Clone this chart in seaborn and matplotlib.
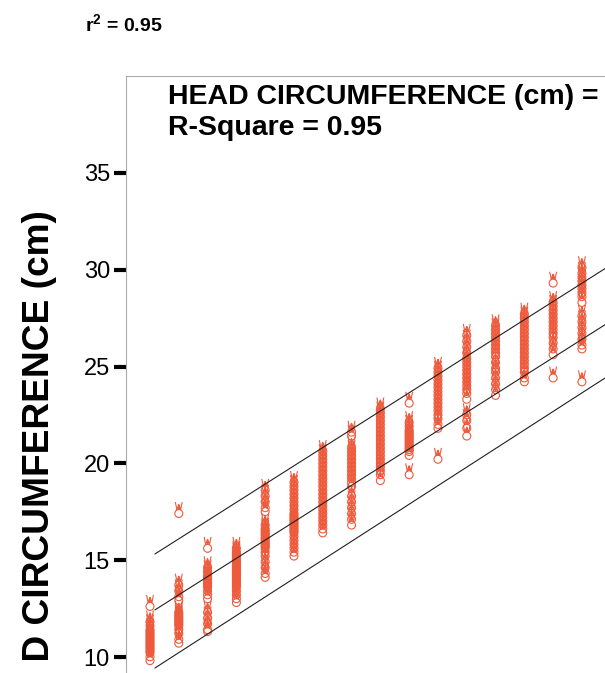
import matplotlib
matplotlib.use("Agg")
import matplotlib.pyplot as plt
from matplotlib.path import Path
from matplotlib.transforms import Bbox
import pandas as pd
import seaborn as sns

# ---- data ----
weeks = list(range(14, 30))
hc_wk14 = [12.8, 12.0, 11.8, 11.6, 11.5, 11.4, 11.3, 11.2, 11.1, 11.0, 10.9, 10.8, 10.7, 10.6, 10.5, 10.4, 10.2, 10.0]
hc_wk15 = [17.6, 13.9, 13.6, 13.3, 13.1, 12.5, 12.4, 12.3, 12.2, 12.1, 12.0, 11.9, 11.8, 11.6, 11.4, 11.1, 10.9]
hc_wk16 = [15.8, 14.8, 14.6, 14.4, 14.3, 14.2, 14.1, 14.0, 13.9, 13.8, 13.6, 13.4, 13.2, 12.5, 12.2, 11.9, 11.6, 11.5]
hc_wk17 = [15.8, 15.6, 15.5, 15.4, 15.3, 15.2, 15.1, 15.0, 14.9, 14.8, 14.7, 14.6, 14.5, 14.4, 14.3, 14.2, 14.1, 14.0, 13.9, 13.8, 13.6, 13.4, 13.2, 13.0]
hc_wk18 = [18.8, 18.5, 18.2, 17.9, 17.7, 17.0, 16.8, 16.7, 16.6, 16.5, 16.4, 16.3, 16.2, 16.1, 16.0, 15.9, 15.8, 15.6, 15.4, 15.1, 14.8, 14.5, 14.3]
hc_wk19 = [19.2, 19.0, 18.8, 18.6, 18.4, 18.2, 18.0, 17.8, 17.6, 17.5, 17.4, 17.3, 17.2, 17.1, 17.0, 16.9, 16.8, 16.7, 16.6, 16.4, 16.2, 16.0, 15.8, 15.6, 15.4]
hc_wk20 = [20.8, 20.6, 20.4, 20.2, 20.0, 19.8, 19.6, 19.4, 19.2, 19.0, 18.8, 18.6, 18.4, 18.2, 18.0, 17.8, 17.6, 17.4, 17.2, 17.0, 16.8, 16.6]
hc_wk21 = [21.8, 21.6, 21.0, 20.8, 20.6, 20.4, 20.2, 20.0, 19.8, 19.6, 19.4, 19.2, 19.0, 18.5, 18.2, 17.9, 17.6, 17.3, 17.0]
hc_wk22 = [23.0, 22.8, 22.6, 22.4, 22.2, 22.0, 21.8, 21.6, 21.4, 21.2, 21.0, 20.8, 20.6, 20.4, 20.2, 20.0, 19.8, 19.6, 19.3]
hc_wk23 = [23.3, 22.3, 22.1, 21.9, 21.8, 21.7, 21.6, 21.5, 21.4, 21.3, 21.2, 21.1, 21.0, 20.9, 20.8, 20.6, 19.6]
hc_wk24 = [25.1, 24.9, 24.7, 24.5, 24.3, 24.1, 23.9, 23.7, 23.5, 23.3, 23.1, 22.9, 22.7, 22.5, 22.2, 22.0, 20.4]
hc_wk25 = [26.8, 26.5, 26.2, 25.9, 25.6, 25.4, 25.2, 25.0, 24.8, 24.6, 24.4, 24.2, 24.0, 23.8, 23.5, 22.7, 22.4, 22.0, 21.6]
hc_wk26 = [27.3, 27.1, 26.9, 26.7, 26.5, 26.3, 26.1, 25.9, 25.7, 25.4, 25.1, 24.9, 24.6, 24.3, 24.0, 23.7]
hc_wk27 = [27.9, 27.7, 27.5, 27.3, 27.1, 26.9, 26.7, 26.5, 26.3, 26.1, 25.9, 25.7, 25.5, 25.3, 25.1, 24.9, 24.6, 24.4]
hc_wk28 = [29.5, 28.5, 28.3, 28.1, 27.9, 27.7, 27.5, 27.3, 27.1, 26.9, 26.7, 26.4, 26.1, 25.8, 24.6]
hc_wk29 = [30.3, 30.0, 29.8, 29.6, 29.4, 29.2, 29.0, 28.8, 28.5, 27.8, 27.5, 27.2, 26.9, 26.6, 26.3, 26.1, 24.4]

columns = [hc_wk14, hc_wk15, hc_wk16, hc_wk17, hc_wk18, hc_wk19, hc_wk20, hc_wk21,
           hc_wk22, hc_wk23, hc_wk24, hc_wk25, hc_wk26, hc_wk27, hc_wk28, hc_wk29]

fit_x = [14.17, 30.0]
fit_mid = [12.43, 27.35]
fit_upper = [15.32, 30.25]
fit_lower = [9.43, 24.60]

yticks = [10, 15, 20, 25, 30, 35]

rows = [(w, v) for w, col in zip(weeks, columns) for v in col]
df = pd.DataFrame(rows, columns=["week", "hc"])

# ---- style ----
sns.set_theme(style="white")
plt.rcParams["font.family"] = ["Liberation Sans", "DejaVu Sans"]
plt.rcParams["text.color"] = "black"
plt.rcParams["mathtext.fontset"] = "custom"
plt.rcParams["mathtext.rm"] = "Liberation Sans:bold"
plt.rcParams["mathtext.it"] = "Liberation Sans:bold"
plt.rcParams["mathtext.bf"] = "Liberation Sans:bold"

W, H = 605, 673
fig = plt.figure(figsize=(W / 100, H / 100), dpi=100)
ax_left, ax_right, ax_top, ax_bottom = 126.5, 700.0, 76.2, 753.8
ax = fig.add_axes([ax_left / W, (H - ax_bottom) / H,
                   (ax_right - ax_left) / W, (ax_bottom - ax_top) / H])

# custom "bunny" marker: open circle with two upright ears
circle = Path.circle((0, -0.42), 0.46)
ears = Path([(-0.40, 0.9), (-0.22, 0.02), (-0.02, 0.6), (0.0, 0.1),
             (0.02, 0.6), (0.22, 0.02), (0.40, 0.9)],
            [Path.MOVETO] + [Path.LINETO] * 6)
marker = Path.make_compound_path(circle, ears)

red = "#EE5A3C"
sns.scatterplot(data=df, x="week", y="hc", marker=marker, s=125,
                color=red, facecolor="none", edgecolor=red, linewidth=0.8,
                ax=ax, legend=False, zorder=2)

for yy in (fit_upper, fit_mid, fit_lower):
    sns.lineplot(x=fit_x, y=yy, color="#202020", linewidth=0.8, ax=ax, zorder=3)

ax.set_xlim(13.184, 33.1)
ax.set_ylim(5, 40)
ax.set_yticks(yticks)
ax.set_xticks([])
ax.set_xlabel("")
ax.set_ylabel("")
ax.grid(False)
ax.tick_params(axis="y", left=True, direction="out", length=9, width=3,
               color="black", labelsize=17, pad=3, labelcolor="black")
for side in ("left", "top"):
    ax.spines[side].set_color("#aaaaaa")
    ax.spines[side].set_linewidth(0.8)
for side in ("right", "bottom"):
    ax.spines[side].set_visible(False)

# ---- texts ----
fig.text(85 / W, 1 - 31 / H, r"r$^{2}$ = 0.95", fontsize=14, fontweight="bold",
         color="black", ha="left", va="baseline")
fig.text(168 / W, 1 - 104 / H, "HEAD CIRCUMFERENCE (cm) =",
         fontsize=20.5, fontweight="bold", color="black", ha="left", va="baseline")
fig.text(168 / W, 1 - 135 / H, "R-Square = 0.95",
         fontsize=20.5, fontweight="bold", color="black", ha="left", va="baseline")
ylab = fig.text(49 / W, 1 - 210 / H, "HEAD CIRCUMFERENCE (cm)", fontsize=26.7,
                fontweight="bold", color="black", rotation=90, rotation_mode="anchor",
                ha="right", va="baseline")
# the reference shows this label cut just below the "D"
ylab.set_clip_box(Bbox([[0, H - 660], [W, H]]))
ylab.set_clip_on(True)

fig.savefig("out.png", dpi=100)
